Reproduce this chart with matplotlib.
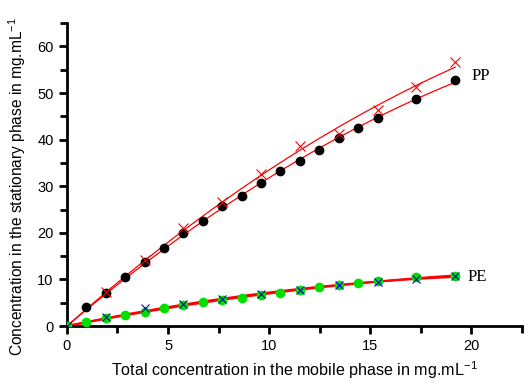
import numpy as np
from matplotlib import pyplot as plt
from matplotlib.ticker import MultipleLocator

plt.rcParams['mathtext.fontset'] = 'custom'
plt.rcParams['mathtext.rm'] = 'Liberation Sans'
plt.rcParams['mathtext.it'] = 'Liberation Sans'
plt.rcParams['axes.unicode_minus'] = False

# PP, dots (black circles)
pp_x = [0, 0.96, 1.92, 2.88, 3.84, 4.8, 5.76, 6.72, 7.68, 8.64, 9.6,
        10.56, 11.52, 12.48, 13.44, 14.4, 15.36, 17.28, 19.2]
pp_y = [0, 4.0, 7.2, 10.5, 13.8, 16.8, 19.9, 22.6, 25.7, 28.0, 30.6,
        33.2, 35.4, 37.7, 40.3, 42.4, 44.6, 48.8, 52.9]

# PP, crosses
ppx_x = [0, 1.92, 3.84, 5.76, 7.68, 9.6, 11.52, 13.44, 15.36, 17.28, 19.2]
ppx_y = [0, 7.4, 14.2, 21.1, 26.6, 32.7, 38.7, 41.3, 46.4, 51.2, 56.7]

# PE, dots (green circles)
pe_x = pp_x
pe_y = [0, 0.9, 1.7, 2.4, 3.0, 3.9, 4.5, 5.1, 5.6, 6.0, 6.6,
        7.1, 7.7, 8.4, 8.8, 9.2, 9.6, 10.5, 10.7]

# PE, crosses
pex_x = ppx_x
pex_y = [0, 1.9, 3.8, 4.7, 5.8, 6.9, 7.7, 8.8, 9.4, 10.2, 10.7]


def fit_origin(x, y, xs):
    # quadratic fit forced through (0, 0)
    x = np.asarray(x)
    A = np.column_stack([x, x ** 2])
    a, b = np.linalg.lstsq(A, np.asarray(y), rcond=None)[0]
    return a * xs + b * xs ** 2


fig = plt.figure(figsize=(5.31, 3.85), dpi=100)
ax = fig.add_axes([0.126, 0.153, 0.857, 0.787])

xs = np.linspace(0, 19.2, 100)
for x, y, lw in [(ppx_x, ppx_y, 0.9), (pp_x, pp_y, 0.9),
                 (pe_x, pe_y, 1.5), (pex_x, pex_y, 1.5)]:
    ax.plot(xs, fit_origin(x, y, xs), color='red', lw=lw, zorder=2)

ax.plot(pp_x, pp_y, 'o', color='black', ms=6, zorder=3)
ax.plot(ppx_x, ppx_y, 'x', color='red', ms=7, mew=0.8, zorder=3)
ax.plot(pe_x, pe_y, 'o', color='#00e000', ms=6, zorder=3)
ax.plot(pex_x, pex_y, 'x', color='#0000cc', ms=6, mew=0.8, zorder=4)

ax.text(20.0, 53.6, 'PP', family='Liberation Serif', fontsize=12, va='center')
ax.text(19.8, 10.5, 'PE', family='Liberation Serif', fontsize=12, va='center')

ax.set_xlim(0, 22.5)
ax.set_ylim(0, 65)
ax.spines['top'].set_visible(False)
ax.spines['right'].set_visible(False)
ax.spines['left'].set_linewidth(2)
ax.spines['bottom'].set_linewidth(2)
ax.xaxis.set_major_locator(MultipleLocator(5))
ax.xaxis.set_minor_locator(MultipleLocator(2.5))
ax.yaxis.set_major_locator(MultipleLocator(10))
ax.yaxis.set_minor_locator(MultipleLocator(5))
ax.tick_params(which='major', length=6, width=2, labelsize=10.5)
ax.tick_params(which='minor', length=5, width=2)
for lab in ax.get_xticklabels() + ax.get_yticklabels():
    lab.set_family('Liberation Sans')

ax.set_xlabel('Total concentration in the mobile phase in mg.mL$^{-1}$',
              family='Liberation Sans', fontsize=11.6)
ax.set_ylabel('Concentration in the stationary phase in mg.mL$^{-1}$',
              family='Liberation Sans', fontsize=11.2)
ax.yaxis.set_label_coords(-0.085, 0.46)

fig.savefig('out.png', dpi=100)
